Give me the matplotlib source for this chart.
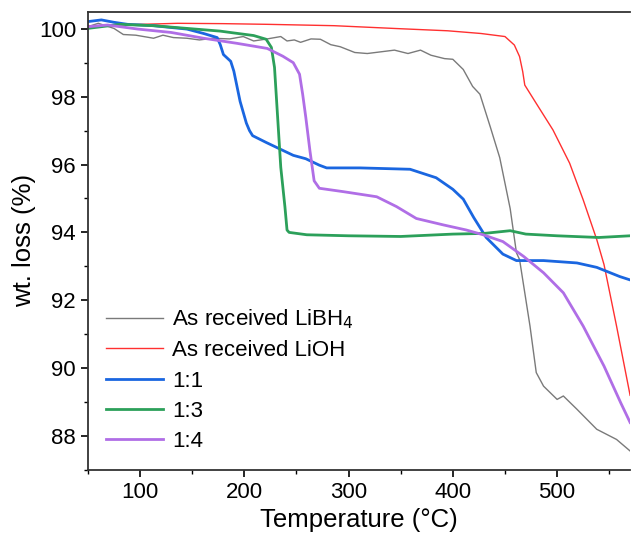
import matplotlib.pyplot as plt
from matplotlib.ticker import MultipleLocator

plt.rcParams['font.family'] = ['Liberation Sans', 'DejaVu Sans']

# Dados (temperatura em °C, massa em %)
t_libh4 = [50, 60, 75, 84, 96, 113, 122, 132, 145, 157, 170, 186, 199, 209, 222, 235, 241,
           248, 254, 264, 273, 283, 292, 306, 318, 331, 344, 357, 369, 379, 392, 400, 410,
           419, 426, 436, 445, 455, 461, 464, 474, 480, 487, 500, 506, 519, 538, 557, 570]
w_libh4 = [100.06, 100.16, 100.01, 99.83, 99.81, 99.72, 99.81, 99.74, 99.72, 99.67, 99.72,
           99.70, 99.77, 99.64, 99.70, 99.77, 99.64, 99.67, 99.60, 99.70, 99.69, 99.53, 99.47,
           99.30, 99.27, 99.32, 99.37, 99.27, 99.37, 99.22, 99.12, 99.10, 98.80, 98.30, 98.07,
           97.10, 96.20, 94.70, 93.40, 93.20, 91.24, 89.87, 89.47, 89.08, 89.18, 88.79, 88.20,
           87.90, 87.56]

t_lioh = [50, 90, 136, 180, 222, 286, 350, 395, 427, 450, 459, 464, 467, 469, 480, 496,
          512, 525, 538, 545, 557, 570]
w_lioh = [100.08, 100.12, 100.16, 100.15, 100.13, 100.09, 100.00, 99.94, 99.86, 99.77,
          99.52, 99.18, 98.74, 98.34, 97.80, 97.02, 96.04, 94.96, 93.79, 93.05, 91.24, 89.20]

t_11 = [50, 63, 75, 88, 113, 132, 145, 161, 174, 177, 180, 187, 190, 196, 202, 205, 208,
        221, 234, 247, 259, 272, 279, 311, 359, 384, 400, 410, 420, 432, 448, 461, 487,
        519, 538, 560, 570]
w_11 = [100.21, 100.26, 100.19, 100.13, 100.09, 100.03, 99.99, 99.86, 99.74, 99.53, 99.24,
        99.04, 98.75, 97.86, 97.22, 97.00, 96.85, 96.65, 96.46, 96.27, 96.17, 95.98, 95.90,
        95.90, 95.86, 95.61, 95.27, 94.98, 94.44, 93.85, 93.36, 93.17, 93.17, 93.10, 92.97,
        92.70, 92.60]

t_13 = [50, 81, 113, 145, 177, 189, 209, 221, 226, 229, 232, 235, 239, 241, 243, 260,
        300, 350, 400, 430, 455, 470, 500, 540, 570]
w_13 = [100.01, 100.13, 100.09, 100.01, 99.93, 99.88, 99.80, 99.69, 99.45, 98.86, 97.39,
        95.92, 94.75, 94.07, 94.00, 93.93, 93.90, 93.88, 93.95, 93.97, 94.05, 93.95, 93.90,
        93.85, 93.90]

t_14 = [50, 69, 98, 130, 161, 193, 222, 237, 247, 253, 256, 259, 263, 267, 272, 295, 327,
        346, 365, 391, 413, 429, 448, 468, 487, 506, 525, 545, 561, 570]
w_14 = [100.06, 100.11, 99.99, 99.89, 99.72, 99.57, 99.42, 99.19, 99.00, 98.66, 98.07,
        97.39, 96.40, 95.52, 95.30, 95.20, 95.05, 94.76, 94.41, 94.22, 94.07, 93.93, 93.73,
        93.29, 92.81, 92.22, 91.24, 90.06, 88.98, 88.40]

series = [
    (t_libh4, w_libh4, 'As received LiBH$_4$', '#7a7a7a', 1.0),
    (t_lioh, w_lioh, 'As received LiOH', '#ff3030', 1.0),
    (t_11, w_11, '1:1', '#1a66e0', 2.0),
    (t_13, w_13, '1:3', '#2ca05a', 2.0),
    (t_14, w_14, '1:4', '#b06ee6', 2.0),
]

fig = plt.figure(figsize=(6.32, 5.35), dpi=100)
ax = fig.add_axes([0.139, 0.1215, 0.858, 0.8565])

for t, w, rotulo, cor, lw in series:
    ax.plot(t, w, color=cor, lw=lw, label=rotulo)

ax.set_xlim(50, 570)
ax.set_ylim(87, 100.5)
ax.xaxis.set_major_locator(MultipleLocator(100))
ax.xaxis.set_minor_locator(MultipleLocator(50))
ax.yaxis.set_major_locator(MultipleLocator(2))
ax.yaxis.set_minor_locator(MultipleLocator(1))
ax.tick_params(which='major', direction='out', length=5, width=1.2, labelsize=16)
ax.tick_params(which='minor', direction='out', length=3, width=1.0)
for lado in ['left', 'bottom', 'top']:
    ax.spines[lado].set_linewidth(1.3)
    ax.spines[lado].set_color('#333333')
ax.spines['right'].set_visible(False)

ax.set_xlabel('Temperature (°C)', fontsize=18.5, labelpad=4)
ax.set_ylabel('wt. loss (%)', fontsize=18.5, labelpad=2)

ax.legend(loc='lower left', bbox_to_anchor=(0.0, 0.0), frameon=False, fontsize=16,
          handlelength=2.6, handletextpad=0.4, labelspacing=0.42, borderaxespad=0.4)

fig.savefig('out.png', dpi=100)
